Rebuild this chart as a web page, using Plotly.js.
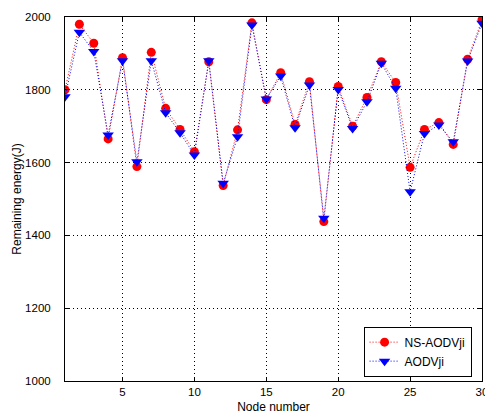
<!DOCTYPE html>
<html>
<head>
<meta charset="utf-8">
<script src="https://cdn.plot.ly/plotly-3.0.1.min.js"></script>
<style>html,body{margin:0;padding:0;background:#fff;}#chart{width:485px;height:419px;}</style>
</head>
<body>
<div id="chart"></div>
<script>
const nodes = [1,2,3,4,5,6,7,8,9,10,11,12,13,14,15,16,17,18,19,20,21,22,23,24,25,26,27,28,29,30];
const nsAodvji = [1800,1980,1928,1665,1888,1589,1903,1749,1691,1630,1877,1537,1690,1984,1773,1847,1705,1822,1438,1809,1700,1779,1877,1820,1587,1691,1710,1650,1884,1992];
const aodvji   = [1781,1958,1905,1676,1880,1602,1880,1737,1682,1621,1880,1543,1671,1978,1775,1838,1696,1813,1447,1801,1694,1767,1873,1804,1520,1680,1703,1657,1879,1983];
const xTicks = [5,10,15,20,25,30];
const yTicks = [1000,1200,1400,1600,1800,2000];

const font = {family: '"Liberation Sans Narrow", "Liberation Sans", Arial, sans-serif', size: 12, color: '#000'};
const tickFont = Object.assign({}, font, {size: 11.5});

const traces = [
  {x: nodes, y: nsAodvji, name: 'NS-AODVji', type: 'scatter', mode: 'lines+markers',
   line: {color: '#ff0000', width: 1, dash: '1px,2px'},
   marker: {symbol: 'circle', size: 9, color: '#ff0000'}},
  {x: nodes, y: aodvji, name: 'AODVji', type: 'scatter', mode: 'lines+markers',
   line: {color: '#0000ff', width: 1, dash: '1px,2px'},
   marker: {symbol: 'triangle-down', size: 10, color: '#0000ff'}}
];

const axisCommon = {
  showline: true, linecolor: '#000', linewidth: 1, mirror: 'ticks',
  ticks: 'inside', ticklen: 4, tickcolor: '#000',
  showgrid: true, gridcolor: '#000', griddash: '1px,3px', gridwidth: 1,
  zeroline: false, tickfont: tickFont, ticklabeloverflow: 'allow'
};

const layout = {
  width: 485, height: 419,
  margin: {l: 65, r: 3, t: 17, b: 38},
  paper_bgcolor: '#fff', plot_bgcolor: '#fff',
  font: font,
  showlegend: true,
  legend: {x: 0.975, y: 0.012, xanchor: 'right', yanchor: 'bottom',
           bgcolor: '#fff', bordercolor: '#000', borderwidth: 1,
           font: font, tracegroupgap: 0, itemwidth: 30},
  xaxis: Object.assign({}, axisCommon, {
    range: [1, 30], tickvals: xTicks, ticktext: xTicks.map(String),
    title: {text: 'Node number', font: font, standoff: 5}
  }),
  yaxis: Object.assign({}, axisCommon, {
    range: [1000, 2000], tickvals: yTicks, ticktext: yTicks.map(String),
    ticklabelstandoff: 11,
    title: {text: 'Remaining energy(J)', font: font, standoff: 0}
  })
};

Plotly.newPlot('chart', traces, layout, {displayModeBar: false, staticPlot: true});
</script>
</body>
</html>
